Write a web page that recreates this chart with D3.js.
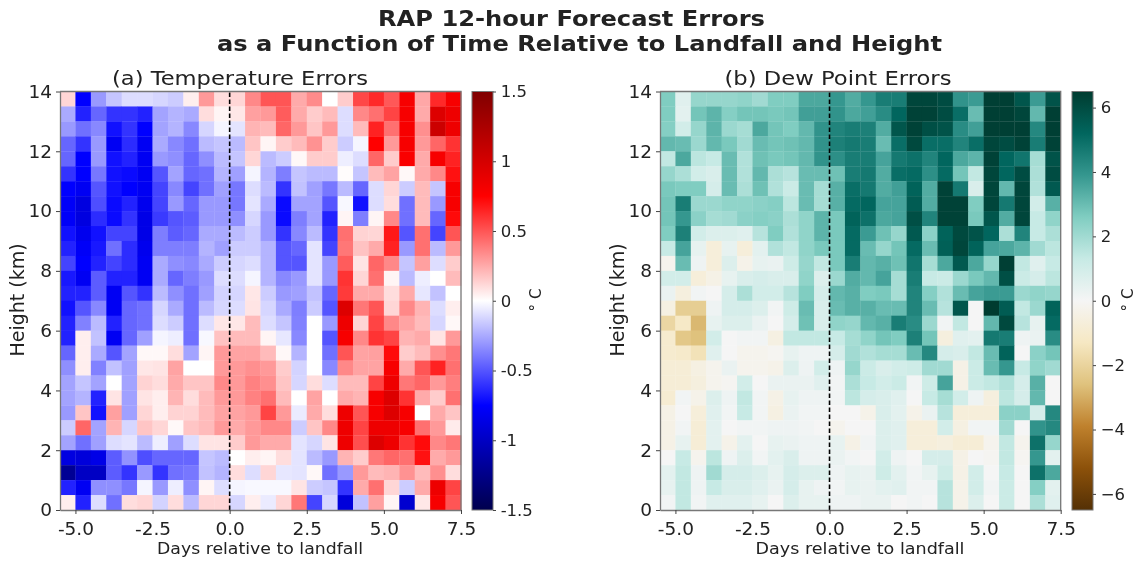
<!DOCTYPE html>
<html><head><meta charset="utf-8">
<script src="https://cdn.jsdelivr.net/npm/d3@7/dist/d3.min.js"></script>
<style>html,body{margin:0;padding:0;background:#fff}svg{display:block;filter:blur(0.7px)}text{font-family:"DejaVu Sans",sans-serif;fill:#222}</style>
</head><body><svg id="c" width="1143" height="562"></svg>
<script>
const dayStarts = d3.range(0,26).map(i=>-5.5+i*0.5);
const heightBottoms = d3.range(0,28).map(i=>13.5-i*0.5);
const dayTicks = [-5,-2.5,0,2.5,5,7.5];
const heightTicks = [0,2,4,6,8,10,12,14];
const tempTicks = [-1.5,-1,-0.5,0,0.5,1,1.5];
const dewTicks = [-6,-4,-2,0,2,4,6];
const tempDomain = [-1.5,-0.75,0,0.75,1.5];
const tempColors = ["#00004d","#0000ff","#ffffff","#ff0000","#800000"];
const dewDomain = [-6.5,-5.2,-3.9,-2.6,-1.3,0,1.3,2.6,3.9,5.2,6.5];
const dewColors = ["#543005","#8c510a","#bf812d","#dfc27d","#f6e8c3","#f5f5f5","#c7eae5","#80cdc1","#35978f","#01665e","#003c30"];
const tempErrors = [
[.12,-.75,-.3,-.17,-.1,-.1,-.12,-.15,.05,.3,.1,.12,.35,.5,.5,.25,.34,0,.15,.54,.63,.49,.8,.26,.63,.8],
[-.25,-.65,-.45,-.6,-.6,-.65,-.27,-.22,-.25,.1,.03,.07,.28,.3,.48,.25,.15,.2,-.1,.35,.42,.55,.8,.25,.95,.85],
[-.3,-.42,-.35,-.7,-.6,-.75,-.27,-.22,-.35,-.12,-.03,-.08,.22,.2,.45,.3,.17,.3,-.1,.2,.65,.42,.8,.33,1.05,.85],
[-.45,-.6,-.3,-.8,-.62,-.8,-.25,-.35,-.42,-.2,-.17,-.2,.17,.03,.15,.2,.32,.15,-.15,-.03,.75,.3,.8,.3,.45,.6],
[-.45,-.75,-.3,-.7,-.65,-.8,-.3,-.33,-.45,-.33,-.2,-.17,.12,-.2,-.15,.02,.15,.15,-.05,-.1,.45,.15,.78,.25,.8,.65],
[-.6,-.75,-.4,-.7,-.72,-.8,-.5,-.27,-.45,-.42,-.22,-.28,-.03,-.22,-.38,-.17,-.2,-.2,.01,-.17,.2,.27,.02,.25,.35,.7],
[-.75,-.8,-.5,-.7,-.75,-.8,-.55,-.35,-.55,-.42,-.28,-.4,-.1,-.2,-.6,-.18,-.28,-.4,-.2,-.45,-.1,.12,-.15,.2,-.17,.8],
[-.78,-.88,-.52,-.72,-.65,-.82,-.55,-.3,-.45,-.3,-.3,-.4,-.08,-.25,-.72,-.27,-.27,-.5,-.02,-.7,-.1,.1,-.42,.2,-.3,.8],
[-.78,-.88,-.62,-.72,-.6,-.85,-.58,-.5,-.48,-.3,-.3,-.33,-.12,-.3,-.72,-.38,-.27,-.65,.03,-.38,.03,.35,-.42,.2,-.45,.72],
[-.7,-.82,-.7,-.55,-.55,-.85,-.38,-.48,-.45,-.25,-.25,-.2,-.15,-.3,-.6,-.35,-.2,-.6,.42,.13,.12,.68,-.5,.42,-.55,.5],
[-.65,-.78,-.68,-.42,-.62,-.82,-.38,-.38,-.38,-.22,-.28,-.15,-.15,-.22,-.5,-.45,-.08,-.55,.4,.18,.25,.65,-.3,.42,-.2,.3],
[-.55,-.75,-.65,-.55,-.62,-.8,-.25,-.33,-.35,-.25,-.15,-.12,-.1,-.22,-.5,-.5,-.08,-.3,.48,.08,.45,.35,-.17,.28,-.1,.15],
[-.68,-.8,-.48,-.65,-.65,-.8,-.25,-.45,-.38,-.3,-.1,-.1,-.03,-.22,-.35,-.3,-.08,-.3,.6,.12,.42,.03,-.2,-.05,0,.2],
[-.65,-.65,-.48,-.8,-.5,-.6,-.2,-.33,-.42,-.28,-.13,-.12,.07,-.15,-.3,-.28,-.18,-.45,.58,.25,.25,.1,.25,-.07,-.18,0],
[-.7,-.5,-.35,-.8,-.45,-.42,-.12,-.25,-.42,-.2,-.12,-.1,.08,-.12,-.25,-.38,-.15,-.5,.95,.4,.5,.12,.35,.22,-.1,.05],
[-.65,-.37,-.2,-.65,-.45,-.42,-.1,-.15,-.42,-.1,.07,.07,.2,-.1,-.17,-.37,0,-.3,.85,.12,.55,.35,.27,.2,-.12,.02],
[-.65,.05,-.18,-.8,-.45,-.28,-.03,-.05,-.42,-.02,.18,.2,.2,.03,-.07,-.35,0,-.5,.8,.35,.6,.55,.22,.25,.08,.3],
[-.45,.05,-.25,-.5,-.27,.02,.02,.1,-.27,.03,.3,.27,.27,.2,.02,-.22,0,-.42,.5,.27,.28,.72,.15,.2,.33,.4],
[-.33,.05,-.37,-.18,-.28,.07,.08,.27,0,0,.3,.3,.33,.3,.15,-.13,0,-.35,.35,.27,.27,.8,.25,.5,.65,.42],
[-.27,-.17,-.27,0,-.27,.13,.1,.25,.17,.17,.35,.3,.37,.33,.17,-.12,.1,-.1,.2,.2,.55,.85,.4,.45,.3,.38],
[-.27,-.22,-.65,.08,-.28,.08,.05,.22,.1,.2,.3,.3,.37,.42,.2,0,.27,0,.25,.22,.8,.95,.6,.25,.15,.42],
[-.3,.17,-.7,.28,-.28,.12,.05,.13,.13,.2,.27,.27,.3,.55,.3,-.06,.25,.1,.85,.5,.8,.95,.8,0,.25,.17],
[-.15,.45,-.27,.22,-.12,.17,.12,.02,.17,.2,.3,.25,.3,.35,.35,-.15,.17,.35,.85,.55,.85,.85,.8,.42,.3,.06],
[-.27,-.42,-.28,-.1,-.08,-.2,-.05,-.28,-.1,.08,.08,.15,.3,.25,.25,-.08,-.12,.08,.85,.52,.95,.85,.6,.72,.35,.4],
[-.88,-.9,-.85,-.48,-.32,-.52,-.45,-.45,-.45,-.17,-.2,0,.05,.03,.1,-.08,-.2,-.3,.22,.15,.4,.45,.42,.7,.25,.3],
[-1.2,-1,-1,-.48,-.6,-.3,-.6,-.42,-.4,-.18,-.22,.1,-.1,.12,-.07,-.08,.02,-.42,-.3,.3,.2,.22,.32,.2,.33,.1],
[-.65,-.8,-.33,-.33,-.4,-.03,-.3,-.05,-.33,.03,-.1,-.03,-.02,-.02,-.02,.08,-.15,-.17,-.6,.25,.42,.12,-.15,.25,.85,.55],
[.05,-.65,-.1,-.42,.1,.12,-.13,.1,-.2,.12,.12,-.12,.05,-.06,.12,.4,-.55,-.12,-.9,-.18,.28,.03,-.95,.07,.8,.5]
];
const dewErrors = [
[2.6,.6,2.2,2.2,2.2,2.3,2,2.6,2.6,3.5,3.5,3.9,3.4,3.9,4.6,4.6,6.2,6.2,6,4,3.8,6.4,6.4,5.7,3.8,5.8],
[2.6,.5,2.8,3.2,2.5,2.8,2.8,2.7,2.8,3.7,3.7,4,3.5,3.7,4.2,5.2,6.3,6.3,6,5,3,6.4,6.4,6.2,3.1,6.4],
[2.5,1,2.2,3.2,2.1,1.9,3.5,2.8,2.6,3.1,4,4.4,4.6,4.5,3.4,5.7,6.3,5.9,5.8,4.2,3.7,6.4,6.4,6.4,4.3,6.4],
[3.1,3,2.1,3.1,2.7,2,3,2.8,2.9,3.1,4,4.5,4.7,4.6,3,5,6.1,5,5,4.4,5,6.2,6,6.3,4.6,6.3],
[1.4,3.5,1.5,1.3,3,1.7,2.9,2.7,2.8,3.1,4,4.1,4.6,4.6,3.6,4.7,4.9,4.4,5.2,3.5,3.2,6.3,5.2,4.8,1.9,5.8],
[2.2,1.8,1,.8,3,1.7,3.1,1.8,1.6,3,3,2.9,4.6,4.7,3.4,5,5.1,4.1,5.1,2.8,1.4,6.2,5.2,6,1.8,6],
[2.7,2.6,2.6,.9,3,1.8,2.9,1.7,1.2,3,1.9,3.3,5,4.7,3.4,3.7,5.3,3.4,6.3,4.7,.8,6.2,3.1,6.2,1.7,5.6],
[2.8,4.6,2.1,2.1,2.3,2.3,2.4,2.5,1.5,3,1.9,3.3,5.1,5.2,3.6,3.6,5.5,3.4,6.3,6.3,2.6,6.2,4.7,6.2,1,3.3],
[2.8,3.9,2.4,1.9,2,2.4,2.5,2.4,1.8,2.3,3.2,2.7,5.3,4.9,3.5,3.6,5.9,4.4,6.3,6.3,2.7,5.7,3.4,6.2,1.3,2.3],
[2.6,4.5,1,.7,.7,.6,1.6,2.6,1.7,2.3,3.2,2.7,5.1,3.8,2.9,2.2,5.6,2.4,5.3,6.1,5.8,5.2,1.8,4.4,1.3,1.8],
[1.3,3.6,.4,-.7,.4,-.7,.5,1.7,1.4,2.3,2.7,2.7,5.1,3,2.2,2.8,5.1,3,5.4,6.2,5.3,3.6,3.5,3.2,2,1.5],
[-.2,3,.2,-.7,.7,-.3,.4,.3,1.1,2.2,1.4,2.7,4.6,3.1,3.3,2.9,4.8,1.9,3.5,5.6,3.5,2.2,6.4,1.4,.6,1.3],
[1,1,-.7,-.4,.4,.8,.9,.8,.8,2.3,.7,2.1,3.4,3.1,3.6,1.9,4.6,1.3,1.2,2.1,2.7,3.1,5.9,1.2,.9,1.5],
[.3,-.6,.1,0,.9,1.8,1,1,1.6,2.6,.9,3.1,3.3,2.6,2.7,1.9,4.4,2.5,1.7,3,3.6,3.8,3.8,2.1,2.3,2.2],
[-.5,-2.2,-2.2,.2,.9,.9,.7,.1,1.1,3,.8,3,3.3,3.3,3,3,4.4,3,1.6,5.7,0,6.5,5.5,1.4,2.1,5.3],
[-1.9,-1.2,-2.8,.4,.7,.7,.3,0,.9,2.9,.8,2.3,2.2,3.1,3.3,4.6,4.2,2.1,.1,1.4,0,3.1,6.1,1.6,.4,5.1],
[-1,-2.4,-2.6,1,0,.1,.1,-.5,1.4,1.4,1.4,1.3,1.9,2.3,2.8,2.6,4.5,2.8,-.6,.6,.5,4.7,4.6,.2,.3,4.2],
[-1,-1.1,-1.5,.6,0,-.2,-.2,-.1,.4,.2,.2,.9,2,1.7,1.9,1.9,3,4.3,.9,.8,1.4,3,5.3,0,2.4,2.8],
[-.8,-.8,-.5,-.2,.3,-.2,-.2,-.3,.7,.2,1,.2,2.2,1.2,.8,1,1.1,2,2,-.4,1.2,3,3.9,1.3,2.3,2],
[-.8,-.8,-.6,-.2,-.1,1,0,.3,.3,.3,.6,.1,1.8,1.3,1,1.2,.1,1.1,3.6,-.4,1.2,1.4,1.7,.9,3.3,0],
[-.9,.1,-.3,.7,.2,1.4,.1,-.4,.4,.2,.2,.1,1.5,.9,.8,.6,0,1.3,1.9,1,.2,-.6,1.5,.9,3.1,0],
[-.4,0,-.7,.6,.1,1.3,.1,-.5,.3,.1,.1,0,0,-.3,.8,.5,-.3,.3,1.6,-.7,-.7,-.7,2.4,2.4,.9,4.3],
[-.4,.1,-.8,.5,0,.1,.1,.2,.2,.1,0,-.2,0,0,.7,.6,-.7,-.7,1,-.5,.1,.1,2,0,4,4.3],
[-.4,.4,-.8,.5,-.3,.5,0,.4,.3,.2,.2,.4,-.4,.1,.7,.6,-.7,-.7,-.6,-.8,-.8,-.2,1.4,-.2,4.9,2.2],
[0,1.3,-.2,1.5,.2,.7,.1,.5,.8,.2,.2,.3,.1,0,1,.2,0,.9,.9,-.4,0,-.1,1.4,-.1,3.9,.5],
[.5,1.4,.2,2,.9,.9,.7,.4,.9,.7,.7,.2,.4,.3,1.1,.5,.1,.4,1.1,-.4,1,0,1.3,0,4.9,3.5],
[.4,1.4,.2,1.3,.8,.8,.6,.3,.9,.4,.2,.1,.4,.3,.5,.6,.1,.1,1.6,-.3,1,.1,1.2,0,2.5,.5],
[.1,1.4,.1,.6,.6,.6,.4,0,.7,.4,.4,.2,.2,.3,.3,0,.1,0,1.6,-.3,.7,0,1.2,0,1.8,.6]
];

const svg = d3.select("#c");
const y = d3.scaleLinear().domain([0,14]).range([510,91.5]);
const cellW = 0.5;

function stretchText(sel,w){ return sel.attr("textLength",w).attr("lengthAdjust","spacingAndGlyphs"); }

function panel(o){
  const x = d3.scaleLinear().domain([-5.5,7.5]).range([o.x0,o.x1]);
  const color = d3.scaleLinear().domain(o.domain).range(o.colors).clamp(true);
  const g = svg.append("g");
  o.values.forEach((row,i)=>{
    g.append("g").selectAll("rect").data(row).join("rect")
      .attr("x",(d,j)=>x(dayStarts[j]))
      .attr("y",y(heightBottoms[i]+0.5))
      .attr("width",(d,j)=>x(dayStarts[j]+cellW)-x(dayStarts[j])+0.3)
      .attr("height",y(heightBottoms[i])-y(heightBottoms[i]+0.5)+0.3)
      .attr("fill",d=>color(d));
  });
  g.append("line").attr("x1",x(0)).attr("x2",x(0)).attr("y1",y(0)).attr("y2",y(14))
    .attr("stroke","#000").attr("stroke-width",1.6).attr("stroke-dasharray","4.5,2.5");
  const xa = svg.append("g").attr("transform",`translate(0,${y(0)})`)
    .call(d3.axisBottom(x).tickValues(dayTicks).tickFormat(d3.format(".1f")).tickSize(4).tickSizeOuter(0));
  const ya = svg.append("g").attr("transform",`translate(${o.x0},0)`)
    .call(d3.axisLeft(y).tickValues(heightTicks).tickSize(4).tickSizeOuter(0));
  [xa,ya].forEach(a=>{a.selectAll("text").attr("font-size",18.5).attr("font-family","DejaVu Sans").style("fill","#222");
    a.selectAll("line").attr("stroke","#444"); a.select(".domain").attr("stroke","#777").attr("stroke-width",1.3);});
  xa.selectAll("text").attr("dy","0.95em").text(d=>d3.format(".1f")(d).replace("\u2212","-"));
  ya.selectAll("text").attr("dx","-0.05em");
  svg.append("path").attr("d",`M${o.x0},${y(14)}H${o.x1}V${y(0)}`).attr("fill","none").attr("stroke","#777").attr("stroke-width",1.3);
  stretchText(svg.append("text").attr("x",o.xLabel-o.xLabelW/2).attr("y",554).attr("font-size",15.5).text("Days relative to landfall"),o.xLabelW);
  svg.append("text").attr("transform",`translate(${o.x0-36},${300}) rotate(-90)`).attr("text-anchor","middle").attr("font-size",19).text("Height (km)");
  stretchText(svg.append("text").attr("x",o.titleX-o.titleW/2).attr("y",85).attr("font-size",20).text(o.title),o.titleW);

  // colour bar
  const c = d3.scaleLinear().domain(d3.extent(o.domain)).range([510,91.5]);
  const id = "grad"+o.key;
  const grad = svg.append("defs").append("linearGradient").attr("id",id).attr("x1",0).attr("x2",0).attr("y1",1).attr("y2",0);
  grad.selectAll("stop").data(o.domain).join("stop")
    .attr("offset",d=>(d-o.domain[0])/(o.domain[o.domain.length-1]-o.domain[0]))
    .attr("stop-color",d=>color(d));
  svg.append("rect").attr("x",o.cx).attr("y",91.5).attr("width",21).attr("height",418.5).attr("fill",`url(#${id})`).attr("stroke","#777").attr("stroke-width",1);
  const ca = svg.append("g").attr("transform",`translate(${o.cx+21},0)`)
    .call(d3.axisRight(c).tickValues(o.ticks).tickSize(3).tickSizeOuter(0).tickFormat(o.fmt));
  ca.select(".domain").remove();
  ca.selectAll("text").attr("font-size",o.cFont).attr("font-family","DejaVu Sans").style("fill","#222").attr("dx","0.1em");
  ca.selectAll("line").attr("stroke","#444");
  svg.append("text").attr("transform",`translate(${o.cLabel},300) rotate(-90)`).attr("text-anchor","middle").attr("font-size",15).text("\u00B0 C");
}
panel({key:"t",x0:60,x1:461,values:tempErrors,domain:tempDomain,colors:tempColors,ticks:tempTicks,cx:472,
  fmt:d=>String(d),cFont:16.5,cLabel:541,xLabel:260,xLabelW:206,title:"(a) Temperature Errors",titleX:240,titleW:256});
panel({key:"d",x0:660,x1:1060.7,values:dewErrors,domain:dewDomain,colors:dewColors,ticks:dewTicks,cx:1072,
  fmt:d=>d<0?"\u2212"+(-d):String(d),cFont:16.5,cLabel:1133,xLabel:860,xLabelW:209,title:"(b) Dew Point Errors",titleX:838,titleW:227});

stretchText(svg.append("text").attr("x",378).attr("y",26).attr("font-size",21.5).attr("font-weight","bold").text("RAP 12-hour Forecast Errors"),387);
stretchText(svg.append("text").attr("x",217).attr("y",51).attr("font-size",21.5).attr("font-weight","bold").text("as a Function of Time Relative to Landfall and Height"),725);
</script></body></html>
